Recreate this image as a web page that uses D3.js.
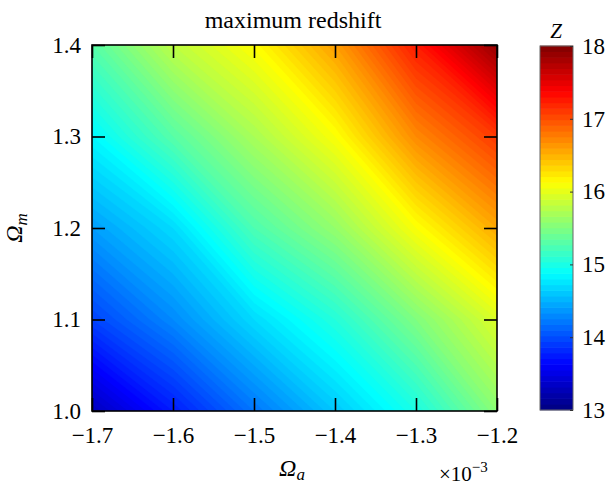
<!DOCTYPE html>
<html>
<head>
<meta charset="utf-8">
<script src="https://cdn.jsdelivr.net/npm/d3@7/dist/d3.min.js"></script>
<style>
  html, body { margin: 0; padding: 0; background: #fff; }
  svg { display: block; }
  svg text { font-family: "Liberation Serif", "Times New Roman", Times, "DejaVu Serif", serif !important; fill: #000; }
</style>
</head>
<body>
<svg id="chart" width="608" height="486"></svg>
<script>
// Omega_a grid columns (units of 1e-3) and Omega_m grid rows
const omegaA = [-1.7, -1.6, -1.5, -1.4, -1.3, -1.2];
const omegaM = [1.0, 1.1, 1.2, 1.3, 1.4];

// maximum redshift Z on the grid, one row per Omega_m value
const zRow10 = [13.30, 13.75, 14.20, 14.60, 15.00, 15.55];
const zRow11 = [13.95, 14.30, 14.70, 15.05, 15.50, 15.95];
const zRow12 = [14.40, 14.70, 15.25, 15.60, 16.10, 16.55];
const zRow13 = [14.85, 15.30, 15.70, 16.10, 16.70, 17.10];
const zRow14 = [15.30, 15.80, 16.12, 16.60, 17.25, 17.90];

const xTicks = [-1.7, -1.6, -1.5, -1.4, -1.3, -1.2];
const yTicks = [1.0, 1.1, 1.2, 1.3, 1.4];
const zTicks = [13, 14, 15, 16, 17, 18];
const zDomain = [13, 18];
const levelStep = 0.05;

const serif = '"Liberation Serif", "Times New Roman", Times, "DejaVu Serif", serif';
const svg = d3.select("#chart");
const plot = { left: 92, right: 497, top: 45, bottom: 411 };
const cbar = { left: 540, right: 573, top: 46, bottom: 410 };

const x = d3.scaleLinear().domain([-1.7, -1.2]).range([plot.left, plot.right]);
const y = d3.scaleLinear().domain([1.0, 1.4]).range([plot.bottom, plot.top]);

// MATLAB-style jet colormap
function jet(t) {
  const c = v => Math.max(0, Math.min(1, v));
  const r = c(1.5 - Math.abs(4 * t - 3));
  const g = c(1.5 - Math.abs(4 * t - 2));
  const b = c(1.5 - Math.abs(4 * t - 1));
  return d3.rgb(r * 255, g * 255, b * 255).toString();
}
const color = d3.scaleSequential(jet).domain(zDomain);

// filled contours
const rows = [zRow10, zRow11, zRow12, zRow13, zRow14];
const values = rows.flat();
const nx = omegaA.length, ny = omegaM.length;
const dxA = omegaA[1] - omegaA[0], dyM = omegaM[1] - omegaM[0];
const thresholds = d3.range(zDomain[0], zDomain[1] + 1e-9, levelStep);
const contours = d3.contours().size([nx, ny]).thresholds(thresholds)(values);

const gridToPx = d3.geoTransform({
  point(cx, cy) {
    this.stream.point(x(omegaA[0] + (cx - 0.5) * dxA), y(omegaM[0] + (cy - 0.5) * dyM));
  }
});
const path = d3.geoPath(gridToPx);

svg.append("clipPath").attr("id", "plot-clip")
  .append("rect")
  .attr("x", plot.left).attr("y", plot.top)
  .attr("width", plot.right - plot.left).attr("height", plot.bottom - plot.top);

const field = svg.append("g").attr("clip-path", "url(#plot-clip)");
field.append("rect")
  .attr("x", plot.left).attr("y", plot.top)
  .attr("width", plot.right - plot.left).attr("height", plot.bottom - plot.top)
  .attr("fill", color(d3.min(values)));
field.selectAll("path").data(contours).join("path")
  .attr("d", path)
  .attr("fill", d => color(d.value + levelStep / 2))
  .attr("stroke", d => color(d.value + levelStep / 2))
  .attr("stroke-width", 0.3);

// axes with inward ticks
const tickLen = 13;
const fmt = d3.format(".1f");
const gx = svg.append("g").attr("transform", `translate(0,${plot.bottom})`)
  .call(d3.axisBottom(x).tickValues(xTicks).tickFormat(fmt).tickSizeInner(-tickLen).tickSizeOuter(0).tickPadding(16));
const gxTop = svg.append("g").attr("transform", `translate(0,${plot.top})`)
  .call(d3.axisTop(x).tickValues(xTicks).tickFormat("").tickSizeInner(-tickLen).tickSizeOuter(0));
const gy = svg.append("g").attr("transform", `translate(${plot.left},0)`)
  .call(d3.axisLeft(y).tickValues(yTicks).tickFormat(fmt).tickSizeInner(-tickLen).tickSizeOuter(0).tickPadding(11));
const gyRight = svg.append("g").attr("transform", `translate(${plot.right},0)`)
  .call(d3.axisRight(y).tickValues(yTicks).tickFormat("").tickSizeInner(-tickLen).tickSizeOuter(0));

[gx, gxTop, gy, gyRight].forEach(g => {
  g.attr("font-family", null);
  g.select(".domain").remove();
  g.selectAll(".tick line").attr("stroke", "#000").attr("stroke-width", 1.6);
  g.selectAll(".tick text").attr("font-size", 23).style("font-family", serif).attr("fill", "#000");
});

svg.append("rect")
  .attr("x", plot.left).attr("y", plot.top)
  .attr("width", plot.right - plot.left).attr("height", plot.bottom - plot.top)
  .attr("fill", "none").attr("stroke", "#000").attr("stroke-width", 1.6);

// title and axis labels
svg.append("text").attr("x", 293).attr("y", 28)
  .attr("text-anchor", "middle").attr("font-size", 24).style("font-family", serif).text("maximum redshift");

const xl = svg.append("text").attr("x", 292).attr("y", 476).attr("text-anchor", "middle")
  .attr("font-size", 24).style("font-family", serif);
xl.append("tspan").attr("font-style", "italic").text("Ω");
xl.append("tspan").attr("font-style", "italic").attr("font-size", 17).attr("dy", 4).text("a");

const mult = svg.append("text").attr("x", 439).attr("y", 481).attr("font-size", 21).style("font-family", serif);
mult.append("tspan").text("×10");
mult.append("tspan").attr("font-size", 15).attr("dy", -9).text("−3");

const yl = svg.append("text").attr("transform", "translate(22,228) rotate(-90)")
  .attr("text-anchor", "middle").attr("font-size", 24).style("font-family", serif);
yl.append("tspan").attr("font-style", "italic").text("Ω");
yl.append("tspan").attr("font-style", "italic").attr("font-size", 17).attr("dy", 5).text("m");

// colorbar
const zc = d3.scaleLinear().domain(zDomain).range([cbar.bottom, cbar.top]);
const nColors = 64;
const cStep = (zDomain[1] - zDomain[0]) / nColors;
const bands = d3.range(nColors).map(i => zDomain[0] + i * cStep);
svg.append("g").selectAll("rect").data(bands).join("rect")
  .attr("x", cbar.left).attr("width", cbar.right - cbar.left)
  .attr("y", d => zc(d + cStep) - 0.3)
  .attr("height", d => zc(d) - zc(d + cStep) + 0.6)
  .attr("fill", d => color(d + cStep / 2));
svg.append("rect")
  .attr("x", cbar.left).attr("y", cbar.top)
  .attr("width", cbar.right - cbar.left).attr("height", cbar.bottom - cbar.top)
  .attr("fill", "none").attr("stroke", "#666").attr("stroke-width", 1);

const gz = svg.append("g").attr("transform", `translate(${cbar.right},0)`)
  .call(d3.axisRight(zc).tickValues(zTicks).tickFormat(d3.format("d")).tickSizeInner(-3).tickSizeOuter(0).tickPadding(9));
gz.attr("font-family", null);
gz.select(".domain").remove();
gz.selectAll(".tick line").attr("stroke", "#333").attr("stroke-width", 1);
gz.selectAll(".tick text").attr("font-size", 23).style("font-family", serif).attr("fill", "#000");

svg.append("text").attr("x", 556).attr("y", 38).attr("text-anchor", "middle")
  .attr("font-size", 21).attr("font-style", "italic").style("font-family", serif).text("Z");
</script>
</body>
</html>
